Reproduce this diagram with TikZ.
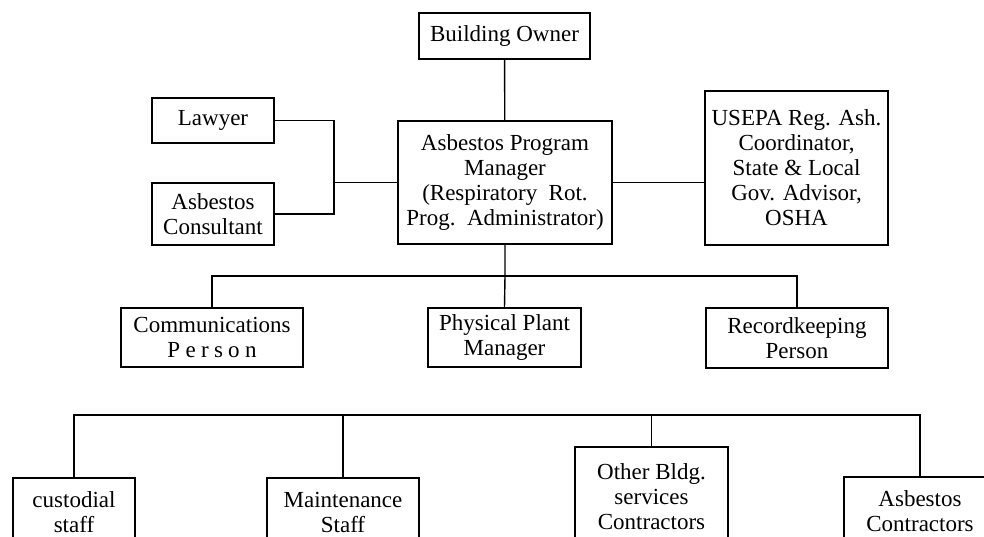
\documentclass[tikz,border=0pt]{standalone}
\usepackage{fontspec}
\setmainfont{Liberation Serif}
\tikzset{box/.style = {draw, line width = 1.4, align = center, inner sep = 0, font = \fontsize{23}{25}\selectfont}}
\tikzset{wire/.style = {line width = 1.4}}

\begin{document}
\begin{tikzpicture}[x = 1pt, y = -1pt]
      \clip (0, 0) rectangle (984, 536);
      \node [box, minimum width = 171, minimum height = 46] (owner) at (504.5, 36) {Building Owner};
      \node [box, minimum width = 122, minimum height = 45] (lawyer) at (213, 120.5) {Lawyer};
      \node [box, minimum width = 122, minimum height = 62] (consult) at (213, 214) {Asbestos\\Consultant};
      \node [box, minimum width = 214, minimum height = 123] (manager) at (505, 182.5) {Asbestos Program\\Manager\\(Respiratory\ \ Rot.\\Prog.\ \ Administrator)};
      \node [box, minimum width = 183, minimum height = 154] (usepa) at (796.5, 168) {USEPA Reg. Ash.\\Coordinator,\\State \& Local\\Gov. Advisor,\\OSHA};
      \node [box, minimum width = 182, minimum height = 59] (comm) at (212, 337.5) {Communications\\{\addfontfeature{LetterSpace=23}Person}};
      \node [box, minimum width = 153, minimum height = 59] (plant) at (504.5, 337.5) {Physical Plant\\Manager};
      \node [box, minimum width = 182, minimum height = 60] (record) at (797, 338) {Recordkeeping\\Person};
      \node [box, minimum width = 122, minimum height = 68] (custodial) at (74, 512) {custodial\\staff};
      \node [box, minimum width = 152, minimum height = 68] (maint) at (343, 512) {Maintenance\\Staff};
      \node [box, minimum width = 153, minimum height = 100] (other) at (651.5, 497) {Other Bldg.\\services\\Contractors};
      \node [box, minimum width = 152, minimum height = 68] (contract) at (920, 511) {Asbestos\\Contractors};
      \coordinate (side) at (334, 182.5);
      \coordinate (midbus) at (505, 276);
      \coordinate (lowbus) at (497, 415);
      \draw [wire] (owner) -- (manager);
      \draw [wire] (lawyer.east) -| (side) |- (consult.east);
      \draw [wire] (side) -- (manager.west);
      \draw [wire] (manager.east) -- (manager.east -| usepa.west);
      \draw [wire] (manager.south) -- (midbus) -- (plant.north);
      \draw [wire] (comm.north) |- (midbus) -| (record.north);
      \draw [wire] (custodial.north) |- (lowbus) -| (contract.north);
      \draw [wire] (maint.north) -- (maint.north |- lowbus);
      \draw [wire] (other.north) -- (other.north |- lowbus);
    \end{tikzpicture}
\end{document}
